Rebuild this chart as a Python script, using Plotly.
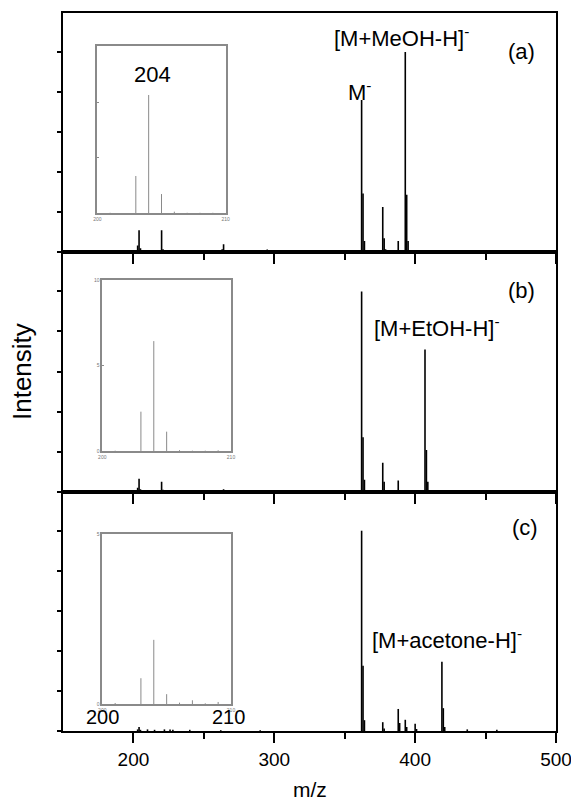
import plotly.graph_objects as go

# ---- main spectra (m/z, relative intensity) ----
mz_a = [170, 192, 203, 204, 205, 220, 221, 226, 230, 263, 264, 265, 279, 280, 295,
        362, 363, 364, 377, 378, 379, 388, 393, 394, 395, 400]
int_a = [0.03, 0.06, 0.17, 0.55, 0.10, 0.55, 0.08, 0.03, 0.03, 0.08, 0.20, 0.06, 0.03, 0.03, 0.07,
         3.80, 1.47, 0.28, 1.13, 0.35, 0.08, 0.28, 5.00, 1.44, 0.28, 0.05]

mz_b = [192, 203, 204, 205, 220, 221, 230, 250, 264, 280, 295, 322,
        362, 363, 364, 377, 378, 388, 400, 407, 408, 409]
int_b = [0.04, 0.10, 0.32, 0.06, 0.25, 0.05, 0.02, 0.02, 0.06, 0.02, 0.02, 0.03,
         5.00, 1.36, 0.30, 0.72, 0.25, 0.28, 0.04, 3.55, 1.04, 0.25]

mz_c = [203, 204, 205, 210, 215, 222, 226, 228, 240, 262, 290,
        362, 363, 364, 377, 378, 388, 389, 393, 394, 400, 401, 419, 420, 421, 437, 458]
int_c = [0.04, 0.10, 0.03, 0.04, 0.03, 0.04, 0.04, 0.03, 0.03, 0.02, 0.02,
         5.00, 1.63, 0.27, 0.22, 0.06, 0.55, 0.20, 0.28, 0.10, 0.18, 0.05, 1.73, 0.57, 0.10, 0.04, 0.03]

# ---- inset spectra (200-210 region) ----
inset_mz = [201, 203, 204, 205, 206, 207, 208, 209]
ins_a = [0.05, 3.37, 10.68, 1.74, 0.15, 0.05, 0.05, 0.05]
ins_b = [0.02, 2.30, 6.43, 1.13, 0.05, 0.02, 0.02, 0.04]
ins_c = [0.03, 0.76, 1.89, 0.29, 0.04, 0.11, 0.02, 0.06]

main_xticks = [200, 300, 400, 500]
main_xlabels = ["200", "300", "400", "500"]

FONT = "Liberation Sans, Arial, sans-serif"


def sticks(mz, inten):
    xs, ys = [], []
    for m, h in zip(mz, inten):
        xs += [m, m, None]
        ys += [0, h, None]
    return xs, ys


fig = go.Figure()

panels = [(mz_a, int_a, "x", "y"), (mz_b, int_b, "x2", "y2"), (mz_c, int_c, "x3", "y3")]
for mz, inten, xa, ya in panels:
    xs, ys = sticks(mz, inten)
    fig.add_trace(go.Scatter(x=xs, y=ys, mode="lines", xaxis=xa, yaxis=ya,
                             line=dict(color="black", width=1.6), showlegend=False,
                             hoverinfo="skip"))

insets = [(ins_a, "x4", "y4"), (ins_b, "x5", "y5"), (ins_c, "x6", "y6")]
for inten, xa, ya in insets:
    xs, ys = sticks(inset_mz, inten)
    fig.add_trace(go.Scatter(x=xs, y=ys, mode="lines", xaxis=xa, yaxis=ya,
                             line=dict(color="#8a8a8a", width=1), showlegend=False,
                             hoverinfo="skip"))

main_doms = {"a": [2/3, 1.0], "b": [1/3, 2/3], "c": [0.0, 1/3]}

def main_x(anchor, show_labels):
    return dict(domain=[0, 1], range=[150, 500], anchor=anchor, automargin=False,
                showline=True, linecolor="black", linewidth=2, mirror=True,
                ticks="outside", ticklen=10, tickwidth=2, tickcolor="black",
                tickvals=main_xticks, ticktext=main_xlabels,
                showticklabels=show_labels, showgrid=False, zeroline=False,
                ticklabeloverflow="allow",
                minor=dict(ticks="outside", ticklen=6, tickwidth=2, tickcolor="black",
                           tickvals=[250, 350, 450], showgrid=False),
                tickfont=dict(family=FONT, size=19, color="black"))

def main_y(anchor, dom):
    return dict(domain=dom, range=[0, 5.975], anchor=anchor, automargin=False,
                showline=True, linecolor="black", linewidth=2, mirror=True,
                ticks="outside", ticklen=4, tickwidth=1.5, tickcolor="black",
                dtick=1, tick0=0, showticklabels=False, showgrid=False, zeroline=False)

def inset_x(anchor, dom):
    return dict(domain=dom, range=[200, 210], anchor=anchor, automargin=False,
                showline=True, linecolor="#8a8a8a", linewidth=1.5, mirror=True,
                ticks="inside", ticklen=2, tickcolor="#8a8a8a",
                tickvals=[200, 210], ticktext=["200", "210"],
                showgrid=False, zeroline=False,
                tickfont=dict(family=FONT, size=5, color="#777777"))

def inset_y(anchor, dom, rng, tv, labels):
    return dict(domain=dom, range=rng, anchor=anchor, automargin=False,
                showline=True, linecolor="#8a8a8a", linewidth=1.5, mirror=True,
                ticks="inside", ticklen=2, tickcolor="#8a8a8a",
                tickvals=tv, showticklabels=labels,
                showgrid=False, zeroline=False,
                tickfont=dict(family=FONT, size=5, color="#777777"))

fig.update_layout(
    template="none",
    width=571, height=801, autosize=False,
    margin=dict(l=63, r=15, t=13, b=70, pad=0),
    paper_bgcolor="white", plot_bgcolor="white",
    font=dict(family=FONT, color="black"),
    xaxis=main_x("y", False), yaxis=main_y("x", main_doms["a"]),
    xaxis2=main_x("y2", False), yaxis2=main_y("x2", main_doms["b"]),
    xaxis3=main_x("y3", True), yaxis3=main_y("x3", main_doms["c"]),
    xaxis4=inset_x("y4", [0.0696, 0.330]),
    yaxis4=inset_y("x4", [0.721, 0.954], [0, 15.1], [0, 5, 10], False),
    xaxis5=inset_x("y5", [0.0797, 0.3408]),
    yaxis5=inset_y("x5", [0.390, 0.628], [0, 10], [0, 5, 10], True),
    xaxis6=inset_x("y6", [0.0797, 0.3408]),
    yaxis6=inset_y("x6", [0.0376, 0.274], [0, 5], [0, 5], True),
)

ann = [
    ("[M+MeOH-H]<sup>-</sup>", 0.686, 0.966, 22),
    ("(a)", 0.931, 0.947, 22),
    ("M<sup>-</sup>", 0.602, 0.891, 22),
    ("204", 0.181, 0.915, 22),
    ("(b)", 0.931, 0.614, 22),
    ("[M+EtOH-H]<sup>-</sup>", 0.759, 0.563, 22),
    ("(c)", 0.937, 0.283, 22),
    ("[M+acetone-H]<sup>-</sup>", 0.779, 0.128, 22),
    ("200", 0.081, 0.0195, 20),
    ("210", 0.335, 0.0195, 20),
]
for text, x, y, s in ann:
    fig.add_annotation(text=text, x=x, y=y, xref="paper", yref="paper",
                       showarrow=False, xanchor="center", yanchor="middle",
                       font=dict(family=FONT, size=s, color="black"))

fig.add_annotation(text="m/z", x=0.50, y=(731 - 789) / 718, xref="paper", yref="paper",
                   showarrow=False, xanchor="center", yanchor="middle",
                   font=dict(family=FONT, size=21, color="black"))
fig.add_annotation(text="Intensity", x=(22 - 63) / 493, y=(731 - 372) / 718,
                   xref="paper", yref="paper", showarrow=False, textangle=-90,
                   xanchor="center", yanchor="middle",
                   font=dict(family=FONT, size=26, color="black"))

fig.write_html(
    "out.html",
    config={"responsive": False, "displayModeBar": False},
    post_script="document.body.style.margin='0';document.body.style.overflow='hidden';",
)
